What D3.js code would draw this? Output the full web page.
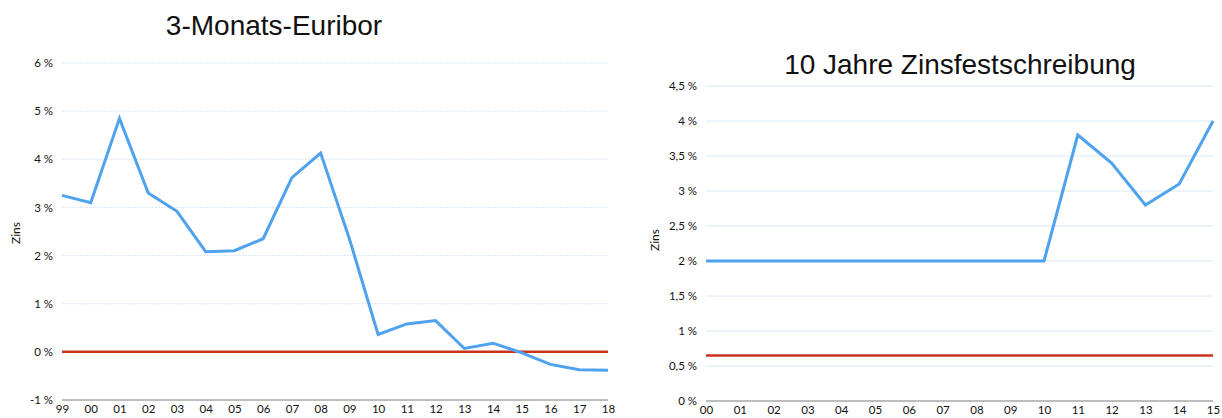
<!DOCTYPE html>
<html>
<head>
<meta charset="utf-8">
<script src="https://cdn.jsdelivr.net/npm/d3@7"></script>
<style>
  body { margin: 0; background: #fff; }
  .title { font-family: "Liberation Sans", Arial, sans-serif; font-size: 28px; fill: #111; }
  .ylabel { font-family: Lato, sans-serif; font-size: 12px; fill: #111; }
</style>
</head>
<body>
<svg id="chart" width="1222" height="418"></svg>
<script>
// left chart: 3-Monats-Euribor, years 1999..2018
const euriborYears = ["99","00","01","02","03","04","05","06","07","08","09","10","11","12","13","14","15","16","17","18"];
const euriborRates = [3.25, 3.1, 4.85, 3.3, 2.92, 2.08, 2.1, 2.35, 3.62, 4.13, 2.35, 0.36, 0.58, 0.65, 0.07, 0.18, -0.02, -0.26, -0.37, -0.38];
const euriborTicks = [-1, 0, 1, 2, 3, 4, 5, 6];
const euriborRef = 0;

// right chart: 10 Jahre Zinsfestschreibung, years 2000..2015
const fixYears = ["00","01","02","03","04","05","06","07","08","09","10","11","12","13","14","15"];
const fixRates = [2, 2, 2, 2, 2, 2, 2, 2, 2, 2, 2, 3.8, 3.4, 2.8, 3.1, 4.0];
const fixTicks = [0, 0.5, 1, 1.5, 2, 2.5, 3, 3.5, 4, 4.5];
const fixRef = 0.65;

const svg = d3.select("#chart");
const fmt = v => String(v).replace(".", ",") + " %";

function styleTicks(axis) {
  axis.attr("font-family", "Lato, 'Open Sans', sans-serif")
    .attr("font-size", 11.5);
  axis.selectAll("text").attr("fill", "#111");
  axis.select(".domain").remove();
}

function drawChart(opts) {
  const g = svg.append("g");

  const x = d3.scalePoint()
    .domain(opts.years)
    .range([opts.left, opts.right]);

  const y = d3.scaleLinear()
    .domain(opts.domain)
    .range([opts.bottom, opts.top]);

  // grid lines
  g.selectAll(".grid")
    .data(opts.ticks.slice(1))
    .enter().append("line")
    .attr("class", "grid")
    .attr("x1", opts.left).attr("x2", opts.right)
    .attr("y1", d => y(d)).attr("y2", d => y(d))
    .attr("stroke", "#dce8f6")
    .attr("stroke-width", 1)
    .attr("stroke-dasharray", opts.dashed ? "2,1" : null);

  // y axis (labels only)
  g.append("g")
    .attr("transform", "translate(" + (opts.left - 6) + ",0)")
    .call(d3.axisLeft(y).tickValues(opts.ticks).tickFormat(fmt).tickSize(0))
    .call(styleTicks);

  // base line
  g.append("line")
    .attr("x1", opts.left).attr("x2", opts.right)
    .attr("y1", y(opts.domain[0])).attr("y2", y(opts.domain[0]))
    .attr("stroke", "#bdbdbd").attr("stroke-width", 2);

  // x axis labels
  g.append("g")
    .attr("transform", "translate(0," + (y(opts.domain[0]) + 2) + ")")
    .call(d3.axisBottom(x).tickSize(0))
    .call(styleTicks);

  // reference line
  g.append("line")
    .attr("x1", opts.left).attr("x2", opts.right)
    .attr("y1", y(opts.ref)).attr("y2", y(opts.ref))
    .attr("stroke", "#c9321e").attr("stroke-width", 2.5);

  // series
  const line = d3.line()
    .x((d, i) => x(opts.years[i]))
    .y(d => y(d));

  g.append("path")
    .datum(opts.values)
    .attr("d", line)
    .attr("fill", "none")
    .attr("stroke", "#4fa2ee")
    .attr("stroke-width", 3)
    .attr("stroke-linejoin", "miter");

  g.append("text")
    .attr("class", "title")
    .attr("x", opts.titleX).attr("y", opts.titleY)
    .attr("text-anchor", "middle")
    .text(opts.title);

  g.append("text")
    .attr("class", "ylabel")
    .attr("transform", "translate(" + opts.labelX + "," + opts.labelY + ") rotate(-90)")
    .attr("text-anchor", "middle")
    .text("Zins");
}

drawChart({
  years: euriborYears, values: euriborRates, ticks: euriborTicks, ref: euriborRef,
  domain: [-1, 6], left: 62, right: 608, top: 63, bottom: 400, dashed: true,
  title: "3-Monats-Euribor", titleX: 274, titleY: 35, labelX: 20, labelY: 233
});

drawChart({
  years: fixYears, values: fixRates, ticks: fixTicks, ref: fixRef,
  domain: [0, 4.5], left: 706, right: 1213, top: 86, bottom: 401, dashed: false,
  title: "10 Jahre Zinsfestschreibung", titleX: 960, titleY: 74, labelX: 659, labelY: 240
});
</script>
</body>
</html>
